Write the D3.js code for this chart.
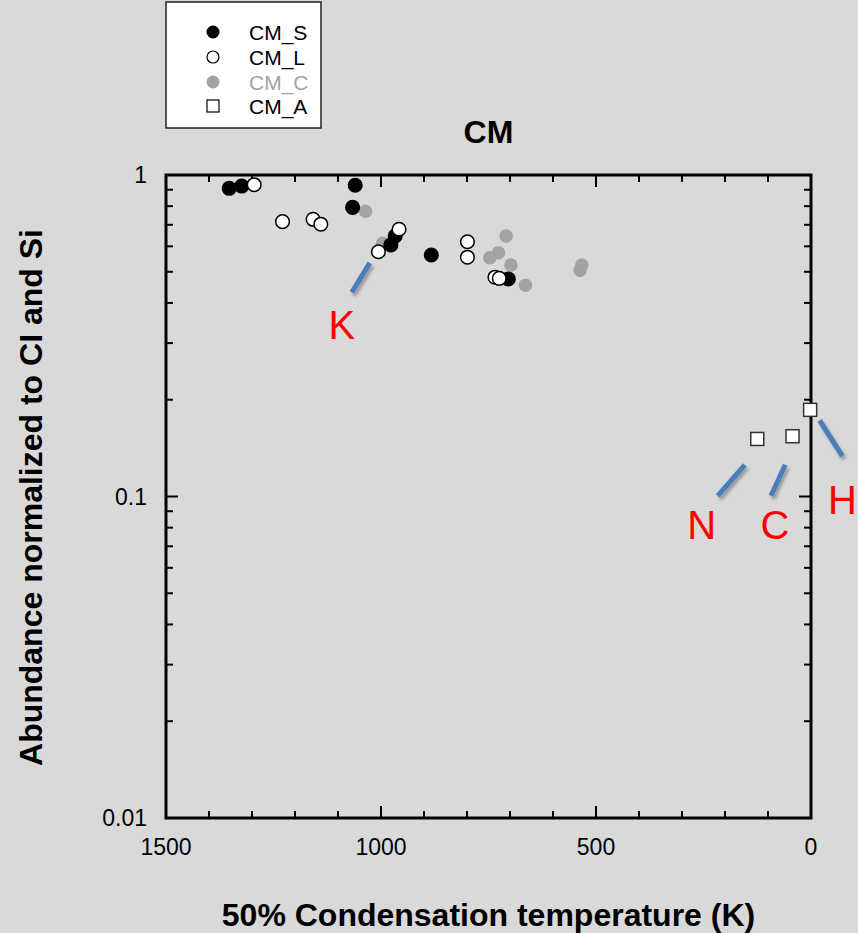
<!DOCTYPE html>
<html>
<head>
<meta charset="utf-8">
<script src="https://cdn.jsdelivr.net/npm/d3@7"></script>
<style>
  html, body { margin: 0; padding: 0; background: #d9d9d9; }
  svg { display: block; font-family: "Liberation Sans", Arial, Helvetica, sans-serif; }
</style>
</head>
<body>
<script>
// Abundances normalized to CI and Si vs. 50% condensation temperature (CM chondrites)
const seriesNames = ["CM_S", "CM_L", "CM_C", "CM_A"];

const cmS_T = [1353, 1324, 1060, 1066, 967, 977, 883, 704];
const cmS_A = [0.909, 0.924, 0.929, 0.793, 0.646, 0.606, 0.564, 0.475];

const cmL_T = [1295, 1229, 1158, 1140, 958, 1006, 799, 799, 735, 725];
const cmL_A = [0.933, 0.716, 0.728, 0.703, 0.678, 0.577, 0.620, 0.555, 0.481, 0.477];

const cmC_T = [1036, 996, 709, 727, 747, 698, 664, 533, 537];
const cmC_A = [0.771, 0.613, 0.646, 0.573, 0.553, 0.525, 0.454, 0.525, 0.506];

const cmA_T = [2, 43, 125];
const cmA_A = [0.186, 0.154, 0.151];

const xTickLabels = [1500, 1000, 500, 0];
const yTickLabels = ["0.01", "0.1", "1"];

// element labels with blue leader lines
const noteNames = ["K", "N", "C", "H"];

const W = 858, H = 933;
const margin = { left: 166, right: 47, top: 175, bottom: 115 };

const svg = d3.select("body").append("svg")
  .attr("width", W).attr("height", H);

svg.append("rect").attr("width", W).attr("height", H).attr("fill", "#d9d9d9");

const x = d3.scaleLinear().domain([1500, 0]).range([margin.left, W - margin.right]);
const y = d3.scaleLog().domain([0.01, 1]).range([H - margin.bottom, margin.top]);

const defs = svg.append("defs");
const shadow = defs.append("filter").attr("id", "shadow")
  .attr("x", "-50%").attr("y", "-50%").attr("width", "200%").attr("height", "200%");
shadow.append("feDropShadow").attr("dx", 2).attr("dy", 3).attr("stdDeviation", 1.5)
  .attr("flood-color", "#000").attr("flood-opacity", 0.3);

// frame with inward ticks on all four sides
const x0 = margin.left, x1 = W - margin.right, y0 = H - margin.bottom, y1 = margin.top;
const xMajor = [1500, 1000, 500, 0];
const xMinor = d3.range(0, 1501, 100).filter(v => !xMajor.includes(v));
const yMajor = [0.01, 0.1, 1];
const yMinor = [];
[0.01, 0.1].forEach(d => { for (let k = 2; k <= 9; k++) yMinor.push(d * k); });

const axisG = svg.append("g").attr("stroke", "#000").attr("stroke-width", 2);
const majLen = 12, minLen = 7;
xMajor.forEach(v => {
  axisG.append("line").attr("x1", x(v)).attr("x2", x(v)).attr("y1", y0).attr("y2", y0 - majLen);
  axisG.append("line").attr("x1", x(v)).attr("x2", x(v)).attr("y1", y1).attr("y2", y1 + majLen);
});
xMinor.forEach(v => {
  axisG.append("line").attr("x1", x(v)).attr("x2", x(v)).attr("y1", y0).attr("y2", y0 - minLen);
  axisG.append("line").attr("x1", x(v)).attr("x2", x(v)).attr("y1", y1).attr("y2", y1 + minLen);
});
yMajor.forEach(v => {
  axisG.append("line").attr("y1", y(v)).attr("y2", y(v)).attr("x1", x0).attr("x2", x0 + majLen);
  axisG.append("line").attr("y1", y(v)).attr("y2", y(v)).attr("x1", x1).attr("x2", x1 - majLen);
});
yMinor.forEach(v => {
  axisG.append("line").attr("y1", y(v)).attr("y2", y(v)).attr("x1", x0).attr("x2", x0 + minLen);
  axisG.append("line").attr("y1", y(v)).attr("y2", y(v)).attr("x1", x1).attr("x2", x1 - minLen);
});
svg.append("rect").attr("x", x0).attr("y", y1).attr("width", x1 - x0).attr("height", y0 - y1)
  .attr("fill", "none").attr("stroke", "#000").attr("stroke-width", 3);

// tick labels
svg.append("g").selectAll("text").data(xTickLabels).join("text")
  .attr("x", d => x(d)).attr("y", y0 + 37)
  .attr("text-anchor", "middle").attr("font-size", 23).attr("fill", "#000")
  .text(d => d);
svg.append("g").selectAll("text").data(yTickLabels).join("text")
  .attr("x", x0 - 19).attr("y", d => y(+d)).attr("dy", "0.36em")
  .attr("text-anchor", "end").attr("font-size", 23).attr("fill", "#000")
  .text(d => d);

// titles
svg.append("text").attr("x", (x0 + x1) / 2).attr("y", 143)
  .attr("text-anchor", "middle").attr("font-size", 32).attr("font-weight", "bold").text("CM");
svg.append("text").attr("x", (x0 + x1) / 2).attr("y", 926)
  .attr("text-anchor", "middle").attr("font-size", 32).attr("font-weight", "bold")
  .text("50% Condensation temperature (K)");
svg.append("text").attr("transform", `translate(42,${(y0 + y1) / 2 + 1}) rotate(-90)`)
  .attr("text-anchor", "middle").attr("font-size", 32).attr("font-weight", "bold")
  .text("Abundance normalized to CI and Si");

// data
const R = 6.8;
const zip = (t, a) => t.map((v, i) => ({ t: v, a: a[i] }));
const plot = svg.append("g");
plot.append("g").selectAll("circle").data(zip(cmC_T, cmC_A)).join("circle")
  .attr("cx", d => x(d.t)).attr("cy", d => y(d.a)).attr("r", R).attr("fill", "#a3a3a3");
plot.append("g").selectAll("circle").data(zip(cmS_T, cmS_A)).join("circle")
  .attr("cx", d => x(d.t)).attr("cy", d => y(d.a)).attr("r", R)
  .attr("fill", "#000").attr("stroke", "#000").attr("stroke-width", 1.5);
plot.append("g").selectAll("circle").data(zip(cmL_T, cmL_A)).join("circle")
  .attr("cx", d => x(d.t)).attr("cy", d => y(d.a)).attr("r", R)
  .attr("fill", "#fff").attr("stroke", "#000").attr("stroke-width", 1.5);
const S = 13;
plot.append("g").selectAll("rect").data(zip(cmA_T, cmA_A)).join("rect")
  .attr("x", d => x(d.t) - S / 2).attr("y", d => y(d.a) - S / 2)
  .attr("width", S).attr("height", S)
  .attr("fill", "#fff").attr("stroke", "#333").attr("stroke-width", 1.5);

// leader lines (T1, A1, T2, A2) and label anchors (T, A, text-anchor)
const noteLines = [
  [1026, 0.533, 1068, 0.432],
  [154, 0.1255, 217, 0.1005],
  [60, 0.1255, 93, 0.1005],
  [-20, 0.1725, -73, 0.1335]
];
const noteLabelPos = [
  [1091, 0.3415, "middle"],
  [254, 0.0815, "middle"],
  [84, 0.0815, "middle"],
  [-107, 0.0975, "end"]
];
svg.append("g").selectAll("line").data(noteLines).join("line")
  .attr("x1", d => x(d[0])).attr("y1", d => y(d[1]))
  .attr("x2", d => x(d[2])).attr("y2", d => y(d[3]))
  .attr("stroke", "#4a7ebb").attr("stroke-width", 5).attr("filter", "url(#shadow)");
svg.append("g").selectAll("text").data(noteNames).join("text")
  .attr("x", (d, i) => x(noteLabelPos[i][0])).attr("y", (d, i) => y(noteLabelPos[i][1]))
  .attr("dy", "0.36em").attr("text-anchor", (d, i) => noteLabelPos[i][2])
  .attr("font-size", 40).attr("fill", "#ff0000").text(d => d);

// legend
const leg = svg.append("g");
leg.append("rect").attr("x", 166).attr("y", 2).attr("width", 155).attr("height", 126)
  .attr("fill", "#fff").attr("stroke", "#222").attr("stroke-width", 1.5);
const legY = [32, 57, 82, 106];
const legColors = ["#000", "#000", "#a3a3a3", "#000"];
seriesNames.forEach((name, i) => {
  const cy = legY[i];
  if (i === 0) leg.append("circle").attr("cx", 213).attr("cy", cy).attr("r", 6.5).attr("fill", "#000");
  if (i === 1) leg.append("circle").attr("cx", 213).attr("cy", cy).attr("r", 6).attr("fill", "#fff").attr("stroke", "#000").attr("stroke-width", 1.2);
  if (i === 2) leg.append("circle").attr("cx", 213).attr("cy", cy).attr("r", 6.5).attr("fill", "#a3a3a3");
  if (i === 3) leg.append("rect").attr("x", 207).attr("y", cy - 6).attr("width", 12).attr("height", 12).attr("fill", "#fff").attr("stroke", "#000").attr("stroke-width", 1.2);
  leg.append("text").attr("x", 249).attr("y", cy).attr("dy", "0.36em")
    .attr("font-size", 21).attr("fill", legColors[i]).text(name);
});
</script>
</body>
</html>
